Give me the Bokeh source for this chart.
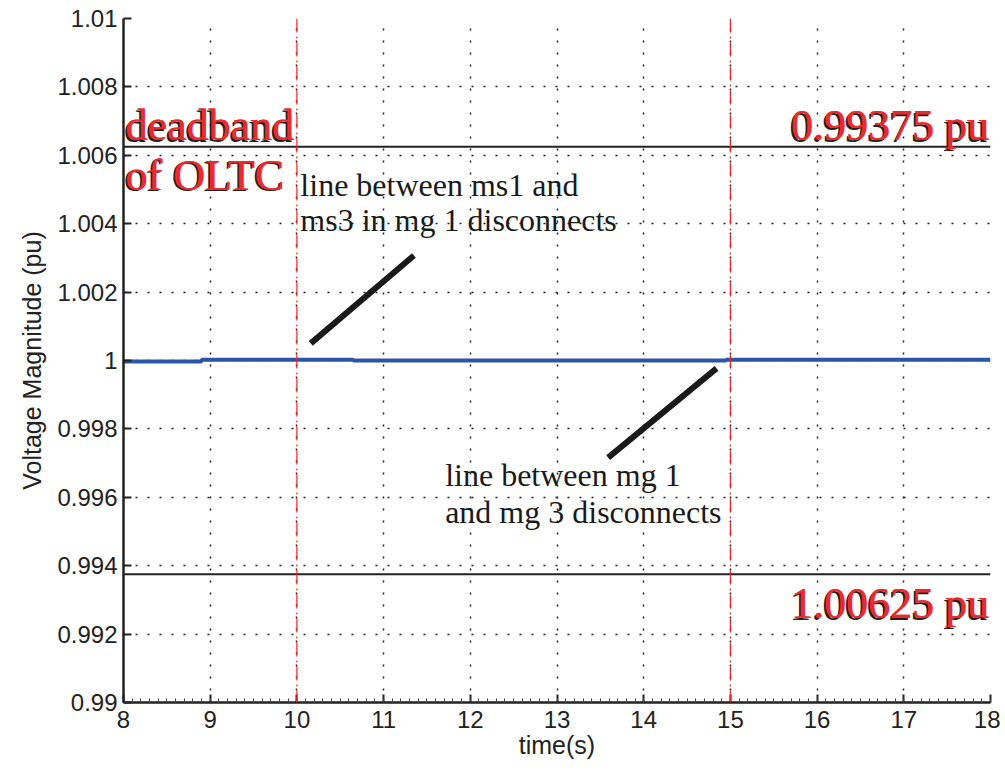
from bokeh.plotting import figure
from bokeh.embed import file_html
from bokeh.resources import INLINE
from bokeh.models import Range1d, FixedTicker, Span, Label

# data
t_steps = [8.0, 8.9, 8.9, 10.65, 10.65, 14.95, 14.95, 18.0]
v_steps = [0.99997, 0.99997, 1.00002, 1.00002, 1.00000, 1.00000, 1.00002, 1.00002]
deadband_upper = 1.00625
deadband_lower = 0.99375
event_times = [10, 15]
arrow1_x = [10.16, 11.35]
arrow1_y = [1.0005, 1.00307]
arrow2_x = [13.59, 14.84]
arrow2_y = [0.99716, 0.99977]
x_ticks = [8, 9, 10, 11, 12, 13, 14, 15, 16, 17, 18]
y_ticks = [0.99, 0.992, 0.994, 0.996, 0.998, 1.0, 1.002, 1.004, 1.006, 1.008, 1.01]
y_tick_labels = ["0.99", "0.992", "0.994", "0.996", "0.998", "1", "1.002", "1.004", "1.006", "1.008", "1.01"]

p = figure(width=1000, height=768, output_backend="svg", toolbar_location=None,
           x_range=Range1d(8, 18), y_range=Range1d(0.99, 1.01),
           min_border_left=123, min_border_right=10, min_border_top=18, min_border_bottom=66)
p.outline_line_color = None
p.background_fill_color = "white"

for ax in (p.xaxis, p.yaxis):
    ax.axis_line_width = 2.5
    ax.axis_line_color = "#222222"
    ax.major_tick_in = 8
    ax.major_tick_out = 0
    ax.minor_tick_in = 4
    ax.minor_tick_out = 0
    ax.major_tick_line_width = 2
    ax.major_tick_line_color = "#222222"
    ax.minor_tick_line_color = "#444444"
    ax.major_label_text_font = "Liberation Sans"
    ax.major_label_text_font_size = "24px"
    ax.major_label_text_color = "#222222"
    ax.axis_label_text_font = "Liberation Sans"
    ax.axis_label_text_font_size = "25px"
    ax.axis_label_text_font_style = "normal"
    ax.axis_label_text_color = "#222222"

p.xaxis.ticker = FixedTicker(ticks=x_ticks, minor_ticks=[8 + i * 0.1 for i in range(101)])
p.yaxis.ticker = FixedTicker(ticks=y_ticks, minor_ticks=[])
p.yaxis.major_label_overrides = {tv: lab for tv, lab in zip(y_ticks, y_tick_labels)}
p.xaxis.axis_label = "time(s)"
p.yaxis.axis_label = "Voltage Magnitude (pu)"
p.xaxis.major_label_standoff = 8
p.yaxis.major_label_standoff = 6
p.xaxis.axis_label_standoff = 0
p.yaxis.axis_label_standoff = 8

for g in (p.xgrid, p.ygrid):
    g.grid_line_color = "#222222"
    g.grid_line_dash = "2 10"
    g.grid_line_width = 1.5

# deadband lines
for yv in (deadband_upper, deadband_lower):
    p.add_layout(Span(location=yv, dimension="width", line_color="#222222", line_width=2))

# event lines
for tv in event_times:
    p.add_layout(Span(location=tv, dimension="height", line_color="#ee2222", line_width=1.2,
                      line_dash="14 4 2 4"))

# voltage
p.line(t_steps, v_steps, line_color="#2a56a8", line_width=4)

# annotation lines
p.line(arrow1_x, arrow1_y, line_color="#1a1a1a", line_width=6)
p.line(arrow2_x, arrow2_y, line_color="#1a1a1a", line_width=6)

def shadow_text(x, y, text, align="left"):
    for dx, dy, col in ((-1.5, -1.5, "#222222"), (0, 0, "#ec2a2e"), (0.8, 0, "#ec2a2e")):
        p.add_layout(Label(x=x, y=y, text=text, x_offset=dx, y_offset=dy,
                           text_font="Liberation Serif", text_font_size="44px",
                           text_font_style="normal", text_color=col, text_align=align,
                           text_baseline="middle"))

shadow_text(8.02, 1.00687, "deadband")
shadow_text(8.02, 1.00541, "of OLTC")
shadow_text(17.98, 1.00687, "0.99375 pu", align="right")
shadow_text(17.98, 0.99289, "1.00625 pu", align="right")

def note(x, y, text):
    p.add_layout(Label(x=x, y=y, text=text, text_font="Liberation Serif",
                       text_font_size="32px", text_color="#1a1a1a",
                       text_baseline="middle", text_align="left"))

note(10.04, 1.00512, "line between ms1 and")
note(10.04, 1.00412, "ms3 in mg 1 disconnects")
note(11.71, 0.99664, "line between mg 1")
note(11.71, 0.99556, "and mg 3 disconnects")

open("out.html", "w").write(file_html(p, INLINE))
